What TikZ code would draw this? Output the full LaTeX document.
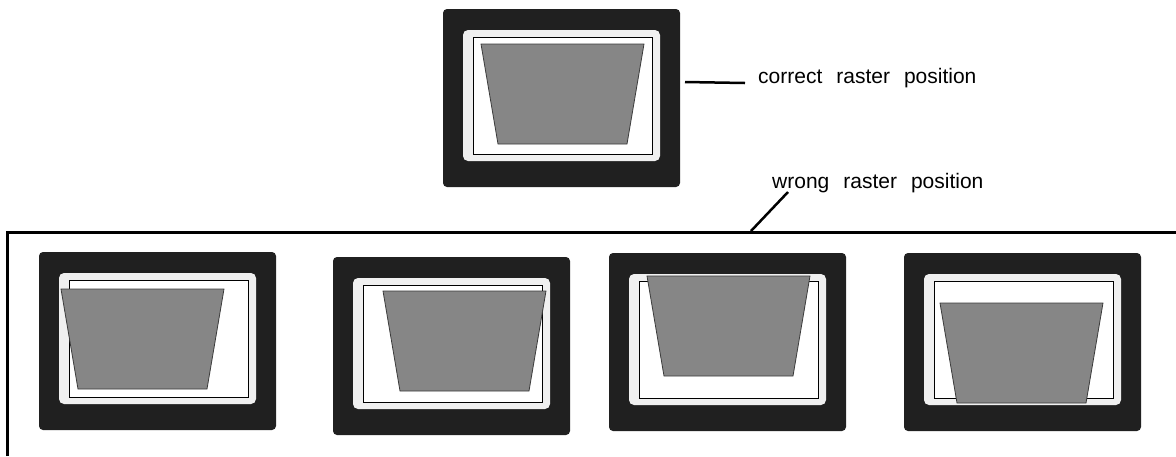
\documentclass[tikz,border=0pt]{standalone}
\usepackage{fontspec}
\setmainfont{Liberation Sans}
\usetikzlibrary{positioning}

\definecolor{casing}{HTML}{202020}
\definecolor{bezel}{HTML}{F0F0F0}
\definecolor{raster}{HTML}{868686}
\definecolor{rasteredge}{HTML}{3C3C3C}

\tikzset{
  casingbox/.style={fill=casing, rounded corners=4pt},
  bezelbox/.style={fill=bezel, rounded corners=5pt},
  screenbox/.style={draw=black, fill=white, line width=0.9pt},
  rasterbox/.style={draw=rasteredge, fill=raster, line width=0.8pt},
  labeltext/.style={inner sep=0pt, font={\fontsize{21}{25}\selectfont\spaceskip=14pt\relax}},
  leader/.style={line width=2.5pt},
}

% one monitor: #1,#2 = top left of casing, #3,#4 = raster offset
\newcommand{\crtscreen}[4]{%
  \begin{scope}[shift={(#1,#2)}]
    \fill[casingbox] (0,0) rectangle (237,178);
    \fill[bezelbox] (20,21) rectangle (217,152);
    \draw[screenbox] (30,28) rectangle (209,145);
    \draw[rasterbox,shift={(#3,#4)}] (38,35) -- (201,35) -- (184,135) -- (55,135) -- cycle;
  \end{scope}}

\begin{document}
\begin{tikzpicture}[x=1pt,y=-1pt]
  \useasboundingbox (0,0) rectangle (1176,456);

  % reference screen
  \crtscreen{443}{9}{0}{0}
  \coordinate (topright) at (685,82);
  \node[labeltext, anchor=base west] (correct) at (758,83) {correct raster position};
  \draw[leader] (topright) -- ([xshift=-13pt]correct.base west);

  % shifted screens
  \crtscreen{39}{252}{-16}{2}
  \crtscreen{333}{257}{12}{-1}
  \crtscreen{609}{253}{0}{-12}
  \crtscreen{904}{253}{-2}{15}

  \draw[line width=3pt] (7,456) -- (7,232.5) -- (1176,232.5);
  \coordinate (wrongfoot) at (751,231);
  \node[labeltext, anchor=base west] (wrong) at (772,188) {wrong raster position};
  \draw[leader] ([xshift=16pt,yshift=-4pt]wrong.base west) -- (wrongfoot);
\end{tikzpicture}
\end{document}
